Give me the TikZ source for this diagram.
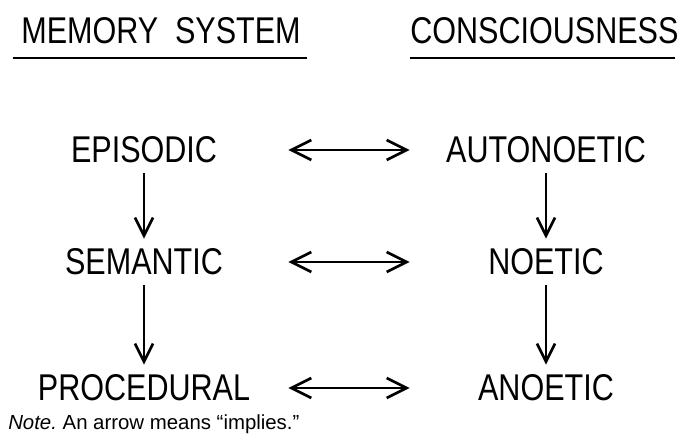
\documentclass[tikz,border=0pt]{standalone}
\usepackage{fontspec}
\setmainfont{Liberation Sans}
\newfontfamily\letterfont[FakeStretch=0.82]{Liberation Sans}
\usetikzlibrary{arrows.meta}
\frenchspacing

\begin{document}
\begin{tikzpicture}[
	term/.style={font=\letterfont\fontsize{26.5}{30}\selectfont,inner sep=0pt,minimum width=6cm},
	heading/.style={font=\letterfont\fontsize{26.5}{30}\selectfont,inner sep=0pt},
	implies/.style={-{Straight Barb[length=0.45cm,width=0.45cm]},line width=1.9pt,shorten <=0.25cm,shorten >=0.25cm},
	equiv/.style={{Straight Barb[length=0.5cm,width=0.5cm]}-{Straight Barb[length=0.5cm,width=0.5cm]},line width=1.9pt,shorten <=0.6cm,shorten >=0.4cm},
	rule/.style={line width=1.7pt}
]
\useasboundingbox (0,0) rectangle (17.075,-11);

% Column headings
\node[heading] (memhead) at (4.025,-0.775) {MEMORY\hspace{0.45em}SYSTEM};
\node[heading] (conhead) at (13.61,-0.775) {CONSCIOUSNESS};
\draw[rule] (0.325,-1.45) -- (7.675,-1.45);
\draw[rule] (10.25,-1.45) -- (16.875,-1.45);

% Memory systems
\node[term] (episodic) at (3.6,-3.75) {EPISODIC};
\node[term] (semantic) at (3.6,-6.55) {SEMANTIC};
\node[term] (procedural) at (3.6,-9.7) {PROCEDURAL};

% Kinds of consciousness
\node[term] (autonoetic) at (13.65,-3.75) {AUTONOETIC};
\node[term] (noetic) at (13.65,-6.55) {NOETIC};
\node[term] (anoetic) at (13.65,-9.7) {ANOETIC};

\draw[implies] (episodic) -- (semantic);
\draw[implies] (semantic) -- (procedural);
\draw[implies] (autonoetic) -- (noetic);
\draw[implies] (noetic) -- (anoetic);

\draw[equiv] (episodic.east) -- (autonoetic.west);
\draw[equiv] (semantic.east) -- (noetic.west);
\draw[equiv] (procedural.east) -- (anoetic.west);

% Note
\node[anchor=west,inner sep=0pt,font=\fontsize{14.5}{16}\selectfont] (note) at (0.2,-10.6) {\textit{Note.} An arrow means ``implies.''};

\end{tikzpicture}
\end{document}
